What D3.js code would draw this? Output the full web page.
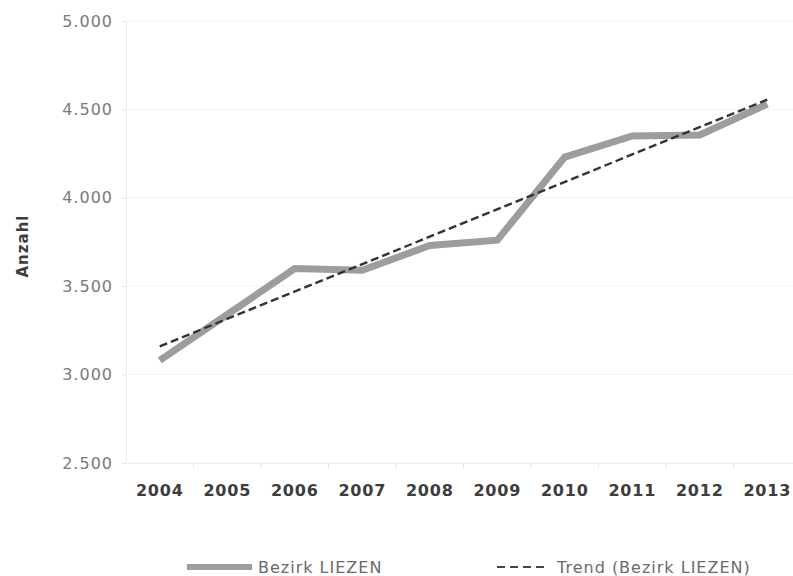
<!DOCTYPE html>
<html>
<head>
<meta charset="utf-8">
<script src="https://cdn.jsdelivr.net/npm/d3@7"></script>
<style>
  html, body { margin: 0; padding: 0; background: #fff; }
  svg { display: block; font-family: "DejaVu Sans", sans-serif; }
</style>
</head>
<body>
<svg id="chart" width="793" height="576"></svg>
<script>
// Jahre und Anzahl im Bezirk Liezen
const years = ["2004", "2005", "2006", "2007", "2008", "2009", "2010", "2011", "2012", "2013"];
const values = [3080, 3340, 3600, 3590, 3730, 3760, 4230, 4350, 4355, 4530];
// Lineare Trendlinie: Werte am ersten und letzten Jahr
const trendYears = ["2004", "2013"];
const trendValues = [3160, 4555];
const yTicks = [2500, 3000, 3500, 4000, 4500, 5000];
const seriesNames = ["Bezirk LIEZEN", "Trend (Bezirk LIEZEN)"];

const svg = d3.select("#chart");
const plotLeft = 126, plotRight = 801, plotTop = 21, plotBottom = 463;

const x = d3.scaleBand().domain(years).range([plotLeft, plotRight]);
const y = d3.scaleLinear().domain([2500, 5000]).range([plotBottom, plotTop]);
const fmtNum = v => { const s = String(v); return s.slice(0, 1) + "." + s.slice(1); };

// Gitternetzlinien
svg.append("g")
  .selectAll("line")
  .data(yTicks)
  .join("line")
  .attr("x1", plotLeft).attr("x2", plotRight)
  .attr("y1", d => y(d)).attr("y2", d => y(d))
  .attr("stroke", "#f3f3f3").attr("stroke-width", 1);

// Y-Achse
const yAxis = svg.append("g")
  .attr("transform", `translate(${plotLeft},0)`)
  .call(d3.axisLeft(y).tickValues(yTicks).tickFormat(fmtNum).tickSize(4).tickPadding(9));
yAxis.select(".domain").attr("stroke", "#eeeeee");
yAxis.selectAll(".tick line").attr("stroke", "#e4e4e4");
yAxis.selectAll("text")
  .attr("fill", "#7a7a7a").attr("font-size", 16)
  .attr("font-family", "DejaVu Sans, sans-serif")
  .attr("letter-spacing", 1);

// X-Achse mit Markierungen zwischen den Kategorien
const xAxis = svg.append("g")
  .attr("transform", `translate(0,${plotBottom})`)
  .call(d3.axisBottom(x).tickSize(0).tickPadding(22));
xAxis.select(".domain").attr("stroke", "#eeeeee");
xAxis.selectAll("text")
  .attr("fill", "#3d3d3d").attr("font-size", 16).attr("font-weight", "bold")
  .attr("font-family", "DejaVu Sans, sans-serif")
  .attr("letter-spacing", 0.8);
svg.append("g")
  .selectAll("line")
  .data(years.slice(1))
  .join("line")
  .attr("x1", d => x(d)).attr("x2", d => x(d))
  .attr("y1", plotBottom).attr("y2", plotBottom + 5)
  .attr("stroke", "#e4e4e4");

// Y-Achsentitel
svg.append("text")
  .attr("transform", `translate(28,246) rotate(-90)`)
  .attr("text-anchor", "middle")
  .attr("fill", "#3d3d3d").attr("font-size", 15).attr("font-weight", "bold")
  .attr("letter-spacing", 1)
  .text("Anzahl");

const cx = d => x(d) + x.bandwidth() / 2;

// Datenlinie
svg.append("path")
  .datum(years.map((yr, i) => [yr, values[i]]))
  .attr("fill", "none")
  .attr("stroke", "#9d9d9d")
  .attr("stroke-width", 7)
  .attr("stroke-linejoin", "miter")
  .attr("d", d3.line().x(d => cx(d[0])).y(d => y(d[1])));

// Trendlinie
svg.append("path")
  .datum(trendYears.map((yr, i) => [yr, trendValues[i]]))
  .attr("fill", "none")
  .attr("stroke", "#333")
  .attr("stroke-width", 2.4)
  .attr("stroke-dasharray", "8,4")
  .attr("d", d3.line().x(d => cx(d[0])).y(d => y(d[1])));

// Legende
const leg = svg.append("g").attr("font-size", 16).attr("letter-spacing", 1);
leg.append("line")
  .attr("x1", 187).attr("x2", 252).attr("y1", 567).attr("y2", 567)
  .attr("stroke", "#9d9d9d").attr("stroke-width", 6);
leg.append("text").attr("x", 258).attr("y", 573).attr("fill", "#6a6a6a").text(seriesNames[0]);
leg.append("line")
  .attr("x1", 497).attr("x2", 547).attr("y1", 567).attr("y2", 567)
  .attr("stroke", "#444").attr("stroke-width", 2).attr("stroke-dasharray", "8,5");
leg.append("text").attr("x", 557).attr("y", 573).attr("fill", "#6a6a6a").text(seriesNames[1]);
</script>
</body>
</html>
